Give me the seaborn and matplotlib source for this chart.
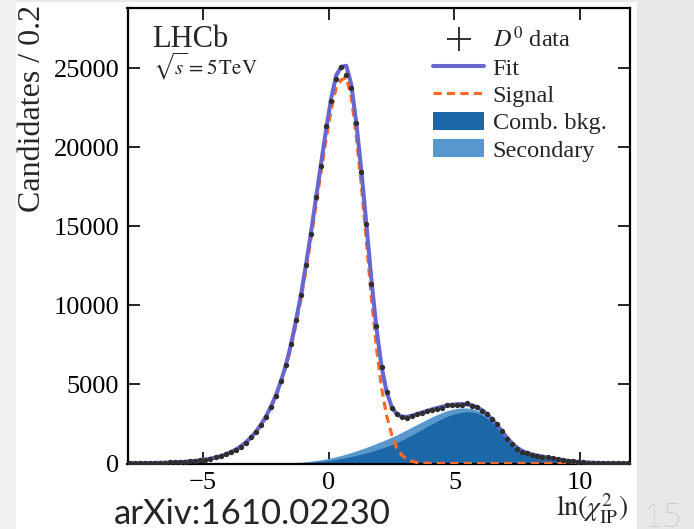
import numpy as np
import pandas as pd
import matplotlib
matplotlib.use("Agg")
import matplotlib.pyplot as plt
from matplotlib.lines import Line2D
from matplotlib.patches import Patch, Rectangle
import seaborn as sns

# ln(chi2_IP) binning: 100 bins of width 0.2 between -8 and 12
edges = np.linspace(-8.0, 12.0, 101)
centers = 0.5 * (edges[:-1] + edges[1:])

# D0 candidates per bin
data_counts = [
    16, 19, 22, 26, 31, 37, 44, 53, 64, 77,
    93, 112, 136, 165, 205, 250, 310, 385, 480, 585,
    710, 855, 1060, 1320, 1650, 1990, 2450, 2920, 3560, 4270,
    5200, 6220, 7570, 9100, 10660, 12560, 14530, 16820, 18790, 21360,
    22940, 24340, 25080, 24590, 23750, 21530, 18400, 15160, 11380, 8720,
    6130, 4540, 3500, 3120, 2930, 2900, 3000, 3130, 3180, 3300,
    3390, 3450, 3500, 3700, 3700, 3720, 3700, 3830, 3660, 3560,
    3340, 3110, 2800, 2500, 2080, 1550, 1220, 920, 750, 650,
    560, 500, 440, 380, 320, 265, 215, 170, 135, 105,
    82, 63, 50, 40, 32, 26, 21, 17, 14, 11,
]

# total fit
fit_total = [
    15, 18, 22, 26, 31, 37, 45, 54, 65, 78,
    94, 114, 138, 168, 205, 250, 308, 380, 470, 580,
    715, 880, 1080, 1330, 1630, 2000, 2440, 2960, 3580, 4320,
    5200, 6250, 7520, 9050, 10700, 12600, 14650, 16850, 19000, 21150,
    23100, 24550, 25080, 25150, 23950, 21500, 18500, 15100, 11600, 8550,
    6150, 4550, 3600, 3130, 2960, 2950, 3020, 3120, 3220, 3320,
    3420, 3510, 3590, 3660, 3710, 3745, 3760, 3740, 3680, 3560,
    3370, 3110, 2790, 2420, 2020, 1620, 1270, 990, 790, 660,
    570, 500, 440, 380, 322, 268, 218, 175, 138, 108,
    84, 65, 51, 40, 32, 26, 21, 17, 14, 11,
]

# prompt D0 signal component
signal = [
    15, 18, 22, 26, 31, 37, 45, 54, 65, 78,
    94, 114, 138, 168, 205, 250, 308, 380, 470, 578,
    712, 876, 1074, 1320, 1615, 1980, 2410, 2920, 3520, 4240,
    5090, 6100, 7330, 8800, 10400, 12250, 14250, 16400, 18500, 20550,
    22400, 23750, 24250, 24400, 23150, 20650, 17550, 14050, 10450, 7300,
    4800, 3050, 1850, 1000, 540, 280, 140, 70, 36, 18,
    9, 5, 3, 2, 1, 1, 0, 0, 0, 0,
    0, 0, 0, 0, 0, 0, 0, 0, 0, 0,
    0, 0, 0, 0, 0, 0, 0, 0, 0, 0,
    0, 0, 0, 0, 0, 0, 0, 0, 0, 0,
]

# combinatorial background component
comb_bkg = [
    0, 0, 0, 0, 0, 0, 0, 0, 0, 0,
    0, 0, 0, 0, 0, 0, 0, 0, 0, 0,
    0, 0, 0, 0, 0, 1, 2, 3, 5, 8,
    12, 17, 24, 33, 45, 60, 80, 105, 135, 170,
    212, 260, 314, 374, 440, 512, 590, 675, 765, 860,
    960, 1070, 1190, 1320, 1470, 1630, 1800, 1970, 2140, 2320,
    2500, 2670, 2830, 2970, 3090, 3180, 3240, 3270, 3260, 3190,
    3050, 2850, 2590, 2270, 1900, 1500, 1170, 910, 730, 605,
    520, 455, 400, 347, 295, 245, 200, 160, 126, 98,
    76, 58, 45, 35, 27, 21, 16, 13, 10, 8,
]

# secondary (from-B) D0 component, stacked on the combinatorial one
secondary = [
    0, 0, 0, 0, 0, 0, 0, 0, 0, 0,
    0, 0, 0, 0, 0, 0, 0, 0, 0, 0,
    0, 0, 0, 0, 0, 1, 2, 4, 6, 9,
    13, 18, 24, 32, 42, 54, 68, 84, 102, 122,
    145, 170, 197, 226, 256, 287, 318, 349, 379, 408,
    434, 456, 474, 487, 495, 498, 496, 489, 477, 461,
    441, 418, 392, 364, 334, 303, 272, 240, 209, 179,
    150, 122, 97, 74, 54, 38, 26, 17, 11, 7,
    4, 2, 1, 0, 0, 0, 0, 0, 0, 0,
    0, 0, 0, 0, 0, 0, 0, 0, 0, 0,
]

x_ticks = [-5, 0, 5, 10]
y_ticks = [0, 5000, 10000, 15000, 20000, 25000]

df = pd.DataFrame({
    "x": centers,
    "data": data_counts,
    "fit": fit_total,
    "signal": signal,
    "comb": comb_bkg,
    "secondary": secondary,
})
df["bkg_top"] = df["comb"] + df["secondary"]

sns.set_theme(style="ticks")
plt.rcParams["font.family"] = ["Liberation Serif", "DejaVu Serif"]
plt.rcParams["mathtext.fontset"] = "stix"

c_fit = "#6767cf"
c_sig = "#ff6a2a"
c_comb = "#1c67a8"
c_sec = "#5898cd"
c_data = "#2e2e2e"

fig = plt.figure(figsize=(6.94, 5.29), dpi=100)
fig.patch.set_facecolor("#e8e8e8")
fig.patches.append(Rectangle((0, 0), 16 / 694, 1, transform=fig.transFigure,
                             facecolor="#f1f1f1", edgecolor="none",
                             zorder=-11))
fig.patches.append(Rectangle((16 / 694, 0), (637 - 16) / 694, 1 - 2 / 529,
                             transform=fig.transFigure, facecolor="white",
                             edgecolor="none", zorder=-10))

ax = fig.add_axes([127.5 / 694, 1 - 463.5 / 529, 503 / 694, 455.5 / 529])
ax.set_zorder(5)
ax.set_facecolor("white")

ax.fill_between(df["x"], 0, df["bkg_top"], color=c_sec, lw=0, zorder=1)
ax.fill_between(df["x"], 0, df["comb"], color=c_comb, lw=0, zorder=2)
sns.lineplot(data=df, x="x", y="signal", ax=ax, color=c_sig, lw=2.3,
             zorder=3)
ax.lines[-1].set_dashes([2.6, 1.6])
sns.lineplot(data=df, x="x", y="fit", ax=ax, color=c_fit, lw=2.9, zorder=4)
sns.scatterplot(data=df, x="x", y="data", ax=ax, color=c_data, s=15,
                linewidth=0, zorder=5)

ax.set_xlim(-8, 12)
ax.set_ylim(0, 28800)
ax.set_xticks(x_ticks)
ax.set_yticks(y_ticks)
ax.set_xticklabels(["\u22125", "0", "5", "10"])
ax.set_xlabel("")
ax.set_ylabel("")
ax.tick_params(direction="in", length=8.5, width=1.2, top=True, right=True,
               labelsize=19, pad=6, colors="black")
for s in ax.spines.values():
    s.set_linewidth(1.6)
    s.set_color("black")

handles = [
    Line2D([], [], color="#222222", marker="+", markersize=17, lw=0,
           markeredgewidth=1.3),
    Line2D([], [], color=c_fit, lw=2.9),
    Line2D([], [], color=c_sig, lw=2.3, dashes=[2.6, 1.6]),
    Patch(facecolor=c_comb, edgecolor="none"),
    Patch(facecolor=c_sec, edgecolor="none"),
]
labels = [r"$D^0$ data", "Fit", "Signal", "Comb. bkg.", "Secondary"]
ax.legend(handles, labels, loc="upper left",
          bbox_to_anchor=((433 - 127.5) / 503, (463.5 - 27) / 455.5),
          frameon=False, fontsize=17.5, handlelength=2.1, handleheight=0.75,
          handletextpad=0.35, labelspacing=0.2, borderpad=0,
          borderaxespad=0)

fig.text(152 / 694, 1 - 47 / 529, "LHCb", fontsize=22, va="baseline",
         zorder=10)
fig.text(153 / 694, 1 - 75 / 529, r"$\sqrt{s} = 5\,\mathrm{TeV}$",
         fontsize=15, va="baseline", zorder=10)

fig.text(33 / 694, 1 - 5 / 529, "Candidates / 0.2", rotation=90,
         ha="center", va="top", fontsize=23)
fig.text(628 / 694, 1 - 517 / 529, r"$\ln(\chi^2_{\rm IP})$",
         ha="right", va="baseline", fontsize=20)

fig.text(114 / 694, 1 - 524 / 529, "arXiv:1610.02230", ha="left",
         va="baseline", fontsize=25,
         family=["Lato", "DejaVu Sans"])
fig.text(643 / 694, 1 - 527 / 529, "15", ha="left", va="baseline",
         fontsize=24, color="#9a9a9a", fontweight="light",
         family=["Lato", "DejaVu Sans"])

fig.savefig("out.png", dpi=100, facecolor=fig.get_facecolor())
